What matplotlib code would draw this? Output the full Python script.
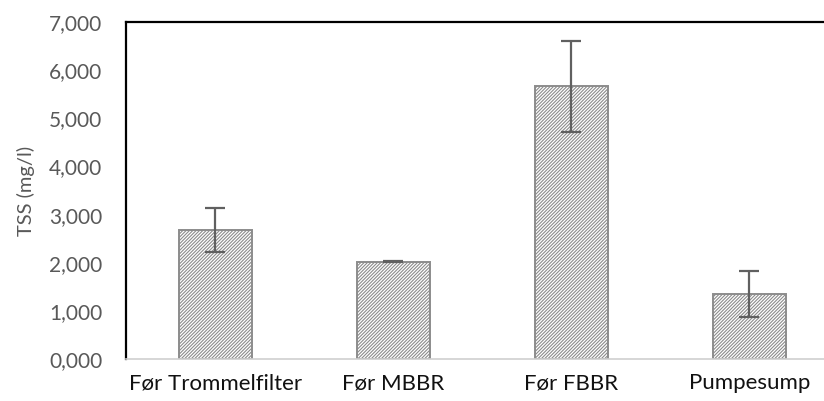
import matplotlib.pyplot as plt
from matplotlib.ticker import FuncFormatter

# TSS per sampling point with standard deviation
steder = ['Før Trommelfilter', 'Før MBBR', 'Før FBBR', 'Pumpesump']
tss = [2.683, 2.025, 5.671, 1.355]
tss_std = [0.466, 0.010, 0.945, 0.470]

plt.rcParams['font.family'] = ['Lato', 'DejaVu Sans']
plt.rcParams['hatch.color'] = '#808080'
plt.rcParams['hatch.linewidth'] = 0.8

fig = plt.figure(figsize=(8.24, 4.01), dpi=100)
ax = fig.add_axes([0.153, 0.104, 0.847, 0.841])

x = range(len(steder))
ax.bar(x, tss, width=0.41, color='white', edgecolor='#8c8c8c',
       linewidth=1.4, hatch='//////////', zorder=2)
ax.errorbar(x, tss, yerr=tss_std, fmt='none', ecolor='#606060',
            elinewidth=1.6, capsize=7, capthick=1.6, zorder=3)

ax.set_xlim(-0.5, 3.42)
ax.set_ylim(0, 7)
ax.set_yticks(range(0, 8))
ax.yaxis.set_major_formatter(FuncFormatter(lambda v, p: f'{v:.3f}'.replace('.', ',')))
ax.set_xticks(list(x))
ax.set_xticklabels(steder)

ax.tick_params(axis='y', length=0, pad=17, labelsize=15, labelcolor='#595959')
ax.tick_params(axis='x', length=0, pad=10, labelsize=16, labelcolor='#111111')

ax.spines['right'].set_visible(False)
ax.spines['left'].set_color('black')
ax.spines['left'].set_linewidth(1.6)
ax.spines['top'].set_color('black')
ax.spines['top'].set_linewidth(1.6)
ax.spines['bottom'].set_color('#d0d0d0')
ax.spines['bottom'].set_linewidth(1.2)

ax.set_ylabel('TSS (mg/l)', fontsize=14.5, color='#595959', labelpad=10)

fig.savefig('out.png', dpi=100)
